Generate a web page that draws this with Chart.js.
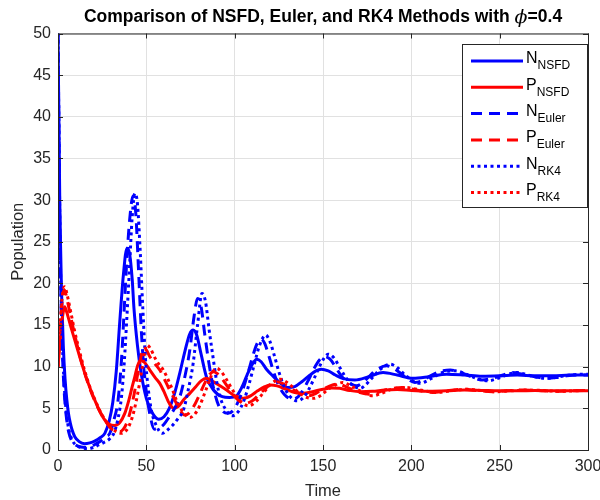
<!DOCTYPE html>
<html>
<head>
<meta charset="utf-8">
<script src="https://cdn.jsdelivr.net/npm/chart.js@4.4.1/dist/chart.umd.min.js"></script>
<style>
  html, body { margin: 0; padding: 0; background: #fff; }
  #wrap { width: 600px; height: 500px; }
</style>
</head>
<body>
<div id="wrap"><canvas id="popChart" width="600" height="500"></canvas></div>
<script>
// values
var nNsfdT = [0,0.5,1,1.5,2,3,4,5,6,7,8,9.5,12,15,18,21,24,26.5,29,31,33,35,37,39,40.5,42,43,45,47,50,53,57,60,63,66,69,72,74.5,76.5,78.5,81,84,88,93,97,101,104,107,110,112.5,115,118,122,126,130,134,138,142,146,149,153,157,161,168,176,184,192,201,210,220,230,240,250,260,270,280,290,300];
var nNsfdV = [50,40,30,24,19,12.5,8.5,6,4.3,3.2,2.4,1.6,1.0,0.75,0.85,1.1,1.5,2.0,3.5,5.7,9.5,15.5,21,24.2,23.6,20.5,17,12.5,9.3,6.2,4.6,3.7,4.0,5.0,6.8,9.3,12,13.9,14.4,13.8,11.5,8.8,7.2,6.4,6.3,6.5,7.5,9.0,10.3,10.9,10.6,9.7,8.8,8.0,7.5,7.6,8.2,8.9,9.5,9.7,9.5,9.0,8.6,8.4,8.8,9.3,9.0,8.6,8.8,9.1,9.0,8.85,8.9,9.0,8.9,8.9,9.0,9.0];

var pNsfdT = [0,1,2,3,3.8,5,7,9.5,12,15.2,18,20.8,23.5,26.5,29,32,35,37.8,40,42,43.5,45,46.9,49,52,55,57.6,60,63,65.5,68,71,74.6,78,81,84,87,91,95.4,100,104.9,109,113,117,120,124,129,134,138.8,144,150,155,159.5,165,171,178,185,192,200,210,220,230,240,250,260,270,280,290,300];
var pNsfdV = [10,12.5,15,16.6,17.2,16.5,15,13.2,11.4,9.2,7.5,6.0,4.7,3.6,3.1,2.95,3.3,4.4,5.9,7.6,8.8,10.1,10.8,10.5,9.6,8.7,8.0,7.0,5.6,5.0,5.2,6.0,6.8,7.6,8.3,8.6,8.3,7.8,7.2,6.5,6.2,6.5,7.1,7.6,7.8,7.7,7.3,6.9,6.8,7.0,7.3,7.45,7.4,7.15,7.0,7.05,7.2,7.25,7.15,7.05,7.1,7.2,7.15,7.1,7.1,7.15,7.1,7.1,7.1];

var nEulerT = [0,0.5,1,1.5,2,3,4,5,6,8,10,13,16,19,22,25,27,29.3,31.5,34,36,37.5,39,40.5,42.5,44,45.5,47,48.5,50,52,54.5,57,60,63,66,69,72,74.6,77,79,81,83,85,87,89,91,93.5,96,99,102,105,108,111,113,115,117,119.5,122,125,128,132.5,136,139,142,145,148,151,154,157,160,163,166,169,172,176,180,186,190,194,198,202,206,210,216,222,228,234,240,246,252,257,263,270,276,282,288,295,300];
var nEulerV = [50,38,27,20,15,9,5.5,3.5,2.2,1.0,0.6,0.35,0.3,0.45,0.8,1.2,1.6,2.0,3.5,6,11,17,23,27.5,30.5,28.5,22,15,10,7,4.3,2.5,2.6,3.1,4.0,5.0,6.4,9.0,12,16,18.2,17.2,14,11,8.5,6.6,5.3,4.6,4.4,4.7,5.8,7.5,9.6,11.8,12.9,13.3,12.8,11.2,9.4,7.7,6.7,6.1,6.4,7.3,8.5,9.8,10.8,11.2,10.9,10.0,9.0,8.3,7.9,7.7,8.0,8.8,9.6,10.1,9.8,9.2,8.5,8.1,8.3,8.8,9.4,9.6,9.3,8.8,8.4,8.6,9.0,9.3,9.1,8.8,8.6,8.7,8.9,9.0,9.0];

var pEulerT = [0,1,2,3,3.7,5,7,9.5,12,15,18,21,24,27,30,33,35,37,39,41,43,45,46.8,48.3,50,52,55,57.6,60,62.5,65.2,68,71.8,74,77,80,83,86,88,90,93,96,99,102,106,110,114,118,121,124,127,131,135,138.5,142,146,150,154,158,162,166,171,176,181,187,195,203,212,220,229,237,246,254,263,272,282,291,300];
var pEulerV = [10,13.5,17,18.9,19.2,18.2,16.2,13.8,11.6,9.3,7.4,5.8,4.5,3.4,2.6,2.25,2.2,2.5,3.3,4.7,6.6,9.0,11.0,12.2,12.0,11.2,10.3,9.6,8.6,7.5,6.4,5.2,4.2,4.4,5.3,6.6,8.0,9.1,9.4,9.2,8.5,7.6,6.7,6.0,5.6,5.9,6.7,7.5,8.0,8.2,8.0,7.5,7.0,6.6,6.5,6.8,7.3,7.7,7.9,7.7,7.3,6.9,6.7,6.9,7.3,7.5,7.2,6.9,7.1,7.3,7.15,7.0,7.1,7.2,7.15,7.05,7.1,7.15];

var nRk4T = [0,0.5,1,1.5,2,3,4,5,6,8,10,13,17,20,23,26,29,32,34,36,37.5,39,40.5,42,43.5,45,46.5,48,49.5,51,53,55.5,59,62,65,68,71,73.5,76.5,79,81.5,83.5,85.5,87.5,90,92,94.5,98.5,102,105,108,111,114,117.5,120,122.5,125,128,131,135.5,139,142,145,148,150.5,153,156,159,162,165,168,171,174,178,182,188,192,196,200,205,209,213,219,225,231,237,243,249,255,260,266,272,278,284,290,296,300];
var nRk4V = [50,39,28,21,16,10,6.2,4,2.6,1.2,0.6,0.3,0.15,0.3,0.6,0.9,1.3,2.2,3.8,6.5,10.5,16,22,28,30.8,29.5,24,17,11,7.5,4.6,3.0,2.0,2.4,3.0,3.8,4.8,7,10.4,15,18.8,17.8,14.5,11.5,8.0,6.2,5.0,4.1,4.6,5.8,7.8,10.2,12.5,13.8,13.0,11.3,9.4,7.6,6.5,5.9,6.3,7.3,8.6,10.0,11.0,11.5,11.1,10.1,9.0,8.1,7.6,7.4,7.8,8.7,9.6,10.3,9.9,9.1,8.4,8.0,8.3,8.8,9.4,9.5,9.1,8.6,8.3,8.6,9.1,9.3,9.0,8.7,8.6,8.8,9.0,9.1,9.1];

var pRk4T = [0,1,2,3,3.8,5,7,9.5,12,15,18,21,24,27,30,33,36,38,40,42,44,46,48,50.2,52,55,57,59.6,62,64.5,67,70,74.6,77,80,83,86,88,90,92,95,98,101,104,108,112,116,120,123,126,129,133,137,141,145,149,153,157,161,165,170,174,178,183,189,197,205,214,222,231,239,248,256,265,274,283,292,300];
var pRk4V = [10,14,17.5,19.3,19.6,18.8,16.8,14.2,12.0,9.6,7.6,6.0,4.6,3.5,2.7,2.2,2.0,2.2,2.8,3.9,5.6,7.8,10.3,12.6,12.3,11.0,10.3,9.6,8.6,7.4,6.0,4.8,3.9,4.2,5.2,6.8,8.5,9.5,9.8,9.5,8.6,7.5,6.5,5.7,5.3,5.8,6.8,7.8,8.3,8.5,8.2,7.5,6.8,6.3,6.2,6.6,7.3,7.8,8.1,7.8,7.2,6.8,6.5,6.8,7.3,7.5,7.2,6.9,7.1,7.3,7.15,7.0,7.1,7.2,7.15,7.05,7.1,7.15];

var xTicks = [0,50,100,150,200,250,300];
var yTicks = [0,5,10,15,20,25,30,35,40,45,50];

var seriesNames = [['N','NSFD'],['P','NSFD'],['N','Euler'],['P','Euler'],['N','RK4'],['P','RK4']];
var titleParts = ['Comparison of NSFD, Euler, and RK4 Methods with ', '\u03d5', '=0.4'];

var BLUE = 'rgb(0,0,255)', RED = 'rgb(255,0,0)';
var INK = 'rgb(38,38,38)';
var FONT = '"Liberation Sans", Arial, sans-serif';
var DASHED = [11,7], DOTTED = [3,3.5];

function pts(t, v) {
    return t.map(function (x, i) { return {x: x, y: v[i]}; });
}

function makeSet(i, t, v, color, dash) {
    return {
        label: seriesNames[i].join(' '),
        data: pts(t, v),
        borderColor: color,
        borderWidth: 3,
        borderDash: dash,
        fill: false,
        pointRadius: 0,
        cubicInterpolationMode: 'monotone',
        order: 6 - i
    };
}

var frame = {
    id: 'frame',
    beforeDraw: function (chart) {
        var ctx = chart.ctx;
        ctx.save();
        ctx.fillStyle = '#fff';
        ctx.fillRect(0, 0, chart.width, chart.height);
        ctx.restore();
    },
    afterDraw: function (chart) {
        var ctx = chart.ctx, a = chart.chartArea;
        var xs = chart.scales.x, ys = chart.scales.y;
        ctx.save();

        // inward ticks on all four sides
        ctx.strokeStyle = INK;
        ctx.lineWidth = 1;
        ctx.beginPath();
        xTicks.forEach(function (t) {
            var px = Math.round(xs.getPixelForValue(t)) + 0.5;
            ctx.moveTo(px, a.bottom); ctx.lineTo(px, a.bottom - 5);
            ctx.moveTo(px, a.top); ctx.lineTo(px, a.top + 5);
        });
        yTicks.forEach(function (t) {
            var py = Math.round(ys.getPixelForValue(t)) + 0.5;
            ctx.moveTo(a.left, py); ctx.lineTo(a.left + 5, py);
            ctx.moveTo(a.right, py); ctx.lineTo(a.right - 5, py);
        });
        ctx.stroke();
        ctx.strokeRect(a.left + 0.5, a.top + 0.5, a.right - a.left, a.bottom - a.top);

        // title
        ctx.fillStyle = 'rgb(0,0,0)';
        ctx.textBaseline = 'middle';
        var f1 = 'bold 17.5px ' + FONT, f2 = 'italic 19px "DejaVu Serif", serif';
        ctx.font = f1;
        var w0 = ctx.measureText(titleParts[0]).width, w2 = ctx.measureText(titleParts[2]).width;
        ctx.font = f2;
        var w1 = ctx.measureText(titleParts[1]).width;
        var tx = (a.left + a.right) / 2 - (w0 + w1 + w2) / 2, ty = 17;
        ctx.textAlign = 'left';
        ctx.font = f1; ctx.fillText(titleParts[0], tx, ty);
        ctx.font = f2; ctx.fillText(titleParts[1], tx + w0, ty + 1);
        ctx.font = f1; ctx.fillText(titleParts[2], tx + w0 + w1, ty);

        // axis titles
        ctx.fillStyle = INK;
        ctx.font = '16.5px ' + FONT;
        ctx.textAlign = 'center';
        ctx.fillText('Time', (a.left + a.right) / 2, 491);
        ctx.translate(18, (a.top + a.bottom) / 2);
        ctx.rotate(-Math.PI / 2);
        ctx.fillText('Population', 0, 0);
        ctx.setTransform(1, 0, 0, 1, 0, 0);

        // legend
        var lx = 462, ly = 44, lw = 125, lh = 163;
        ctx.fillStyle = '#fff';
        ctx.fillRect(lx, ly, lw, lh);
        ctx.strokeStyle = INK;
        ctx.lineWidth = 1;
        ctx.strokeRect(lx + 0.5, ly + 0.5, lw, lh);
        var sets = chart.data.datasets;
        for (var i = 0; i < sets.length; i++) {
            var ry = ly + 17 + i * 26.3;
            ctx.strokeStyle = sets[i].borderColor;
            ctx.lineWidth = 3;
            ctx.setLineDash(sets[i].borderDash || []);
            ctx.beginPath();
            ctx.moveTo(471, ry); ctx.lineTo(523, ry);
            ctx.stroke();
            ctx.setLineDash([]);
            ctx.fillStyle = 'rgb(0,0,0)';
            ctx.textAlign = 'left';
            ctx.font = '16px ' + FONT;
            ctx.fillText(seriesNames[i][0], 526, ry - 2);
            var nw = ctx.measureText(seriesNames[i][0]).width;
            ctx.font = '12px ' + FONT;
            ctx.fillText(seriesNames[i][1], 526 + nw, ry + 5);
        }
        ctx.restore();
    }
};

new Chart(document.getElementById('popChart'), {
    type: 'line',
    data: {
        datasets: [
            makeSet(0, nNsfdT, nNsfdV, BLUE, []),
            makeSet(1, pNsfdT, pNsfdV, RED, []),
            makeSet(2, nEulerT, nEulerV, BLUE, DASHED),
            makeSet(3, pEulerT, pEulerV, RED, DASHED),
            makeSet(4, nRk4T, nRk4V, BLUE, DOTTED),
            makeSet(5, pRk4T, pRk4V, RED, DOTTED)
        ]
    },
    options: {
        responsive: false,
        animation: false,
        devicePixelRatio: 1,
        layout: { padding: { top: 33.5, right: 12, bottom: 0, left: 0 } },
        plugins: {
            legend: { display: false },
            title: { display: false },
            tooltip: { enabled: false }
        },
        scales: {
            x: {
                type: 'linear',
                min: 0,
                max: 300,
                afterBuildTicks: function (s) { s.ticks = xTicks.map(function (v) { return {value: v}; }); },
                afterFit: function (s) { s.height = 50; s.paddingLeft = 0; s.paddingRight = 0; },
                grid: { color: 'rgb(225,225,225)', drawTicks: false },
                border: { display: false },
                ticks: { color: INK, font: { family: FONT, size: 16 }, padding: 7, maxRotation: 0 }
            },
            y: {
                min: 0,
                max: 50,
                afterBuildTicks: function (s) { s.ticks = yTicks.map(function (v) { return {value: v}; }); },
                afterFit: function (s) { s.width = 58; s.paddingTop = 0; s.paddingBottom = 0; },
                grid: { color: 'rgb(225,225,225)', drawTicks: false },
                border: { display: false },
                ticks: { color: INK, font: { family: FONT, size: 16 }, padding: 7 }
            }
        }
    },
    plugins: [frame]
});
</script>
</body>
</html>
